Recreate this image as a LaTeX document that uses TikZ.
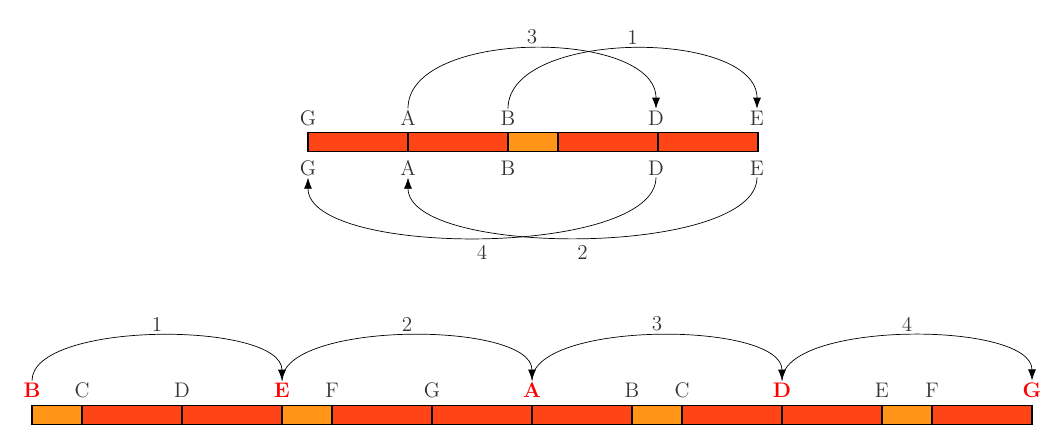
\documentclass[tikz,border=0pt]{standalone}
\usepackage{xcolor}
\usetikzlibrary{arrows.meta, positioning}
\definecolor{segred}{HTML}{FF4515}
\definecolor{segorange}{HTML}{FF9416}
\definecolor{ink}{HTML}{333333}
\tikzset{
  seg/.style   = {draw=black, thick, minimum height=0.38cm, inner sep=0pt, outer sep=0pt},
  key/.style   = {text=ink, inner sep=1pt, font=\large},
  hot/.style   = {text=red, inner sep=1pt, font=\large\bfseries},
  jump/.style  = {-{Latex[length=2.2mm,width=1.6mm]}, black},
  num/.style   = {text=ink, font=\large}
}
\begin{document}
\begin{tikzpicture}[x=1cm,y=1cm]
  \useasboundingbox (0,0) rectangle (21.2,8.9);
  % top bar
  \foreach \name/\x/\w/\c in {t1/6.16/2/segred, t2/8.16/2/segred, t3/10.16/1/segorange,
                              t4/11.16/2/segred, t5/13.16/2/segred}
    \node[seg, fill=\c, minimum width=\w cm, anchor=west] (\name) at (\x,6.06) {};
  % labels above and below the top bar
  \foreach \n/\x in {G/6.16, A/8.16, B/10.16, D/13.12, E/15.14} {
    \node[key] (u\n) at (\x,6.54) {\n};
    \node[key] (l\n) at (\x,5.54) {\n};
  }
  \draw[jump] (uA.north) .. controls +(0,1.6) and +(0,1.6) .. node[num, above=-1pt]{3} (uD.north);
  \draw[jump] (uB.north) .. controls +(0,1.6) and +(0,1.6) .. node[num, above=-1pt]{1} (uE.north);
  \draw[jump] (lD.south) .. controls +(0,-1.6) and +(0,-1.6) .. node[num, below=1pt]{4} (lG.south);
  \draw[jump] (lE.south) .. controls +(0,-1.6) and +(0,-1.6) .. node[num, below=1pt]{2} (lA.south);
  % bottom bar
  \foreach \name/\x/\w/\c in {b1/0.64/1/segorange, b2/1.64/2/segred, b3/3.64/2/segred,
                              b4/5.64/1/segorange, b5/6.64/2/segred, b6/8.64/2/segred,
                              b7/10.64/2/segred, b8/12.64/1/segorange, b9/13.64/2/segred,
                              b10/15.64/2/segred, b11/17.64/1/segorange, b12/18.64/2/segred}
    \node[seg, fill=\c, minimum width=\w cm, anchor=west] (\name) at (\x,0.6) {};
  \foreach \n/\t/\x/\s in {p1/B/0.64/hot, p2/C/1.64/key, p3/D/3.64/key, p4/E/5.64/hot,
                           p5/F/6.64/key, p6/G/8.64/key, p7/A/10.64/hot, p8/B/12.64/key,
                           p9/C/13.64/key, p10/D/15.64/hot, p11/E/17.64/key, p12/F/18.64/key,
                           p13/G/20.64/hot}
    \node[\s] (\n) at (\x,1.1) {\t};
  \draw[jump] (p1.north) .. controls +(0,1.2) and +(0,1.2) .. node[num, above=-1pt]{1} (p4.north);
  \draw[jump] (p4.north) .. controls +(0,1.2) and +(0,1.2) .. node[num, above=-1pt]{2} (p7.north);
  \draw[jump] (p7.north) .. controls +(0,1.2) and +(0,1.2) .. node[num, above=-1pt]{3} (p10.north);
  \draw[jump] (p10.north) .. controls +(0,1.2) and +(0,1.2) .. node[num, above=-1pt]{4} (p13.north);
\end{tikzpicture}
\end{document}
